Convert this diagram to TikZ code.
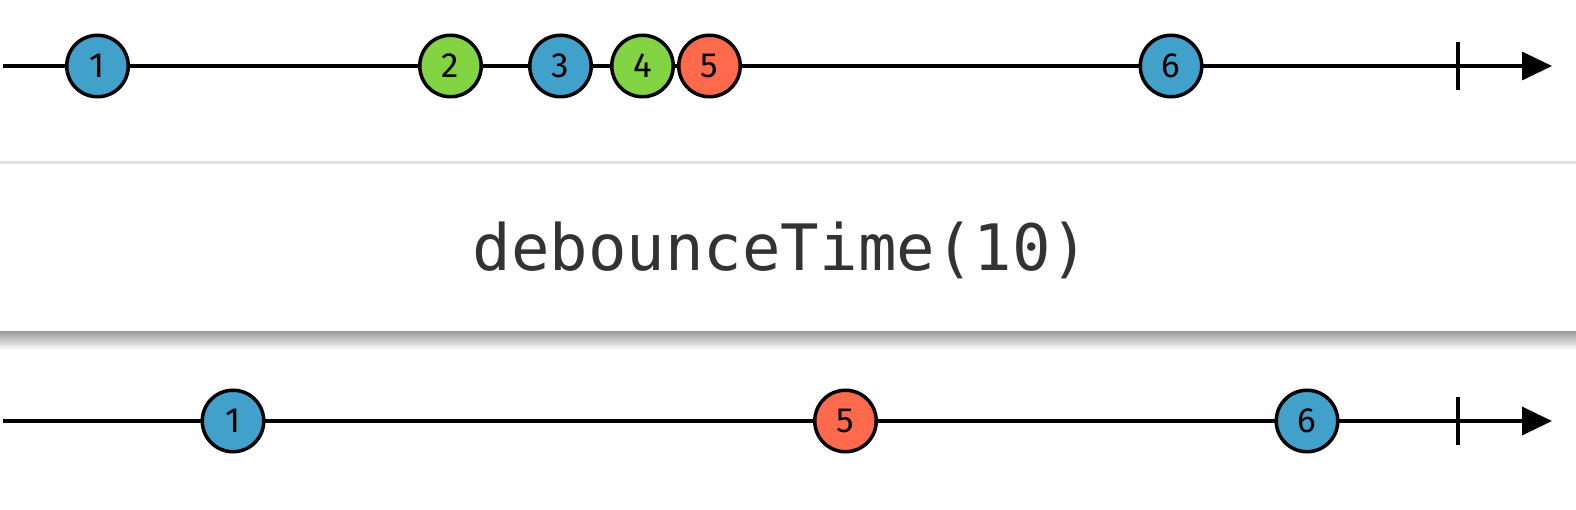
\documentclass[tikz,border=0pt]{standalone}
\usepackage{fontspec}
\setsansfont{Fira Sans}
\setmonofont{DejaVu Sans Mono}
\usetikzlibrary{
    arrows.meta,
    positioning,
}
\definecolor{marbleblue}{RGB}{66,161,203}
\definecolor{marblegreen}{RGB}{130,212,67}
\definecolor{marblered}{RGB}{255,106,77}
\definecolor{optext}{RGB}{51,51,51}
\tikzstyle{timeline}=[line width=3.5pt, -{Triangle[length=30pt, width=28pt]}]
\tikzset{marble/.style={draw, circle, line width=3.5pt, minimum size=61.5pt, inner sep=0pt,
    font=\sffamily\fontsize{35}{35}\selectfont}}

\begin{document}
\begin{tikzpicture}[x=1pt, y=-1pt]
            \useasboundingbox (0,0) rectangle (1576,510);
            % source stream
            \coordinate (srcstart) at (3,66);
            \coordinate (srcend) at (1552,66);
            \draw[timeline] (srcstart) -- (srcend);
            \draw[line width=3.5pt] (1458,42) -- (1458,90);
            \node[marble,fill=marbleblue] (in1) at (97.5,66) {1};
            \node[marble,fill=marblegreen] (in2) at (450.5,66) {2};
            \node[marble,fill=marbleblue] (in3) at (560.5,66) {3};
            \node[marble,fill=marblegreen] (in4) at (642.5,66) {4};
            \node[marble,fill=marblered] (in5) at (709.5,66) {5};
            \node[marble,fill=marbleblue] (in6) at (1171,66) {6};
            % operator box
            \shade[top color=black!40, bottom color=white] (0,331) rectangle (1576,350);
            \fill[black!12] (0,161) rectangle (1576,164);
            \fill[white] (0,164) rectangle (1576,331);
            \node[anchor=base, text=optext, font=\ttfamily\fontsize{64}{64}\selectfont] (op) at (781,271) {debounceTime(10)};
            % result stream
            \coordinate (outstart) at (3,421);
            \coordinate (outend) at (1552,421);
            \draw[timeline] (outstart) -- (outend);
            \draw[line width=3.5pt] (1458,397) -- (1458,445);
            \node[marble,fill=marbleblue] (out1) at (233,421) {1};
            \node[marble,fill=marblered] (out5) at (845.5,421) {5};
            \node[marble,fill=marbleblue] (out6) at (1307,421) {6};
        \end{tikzpicture}
\end{document}
